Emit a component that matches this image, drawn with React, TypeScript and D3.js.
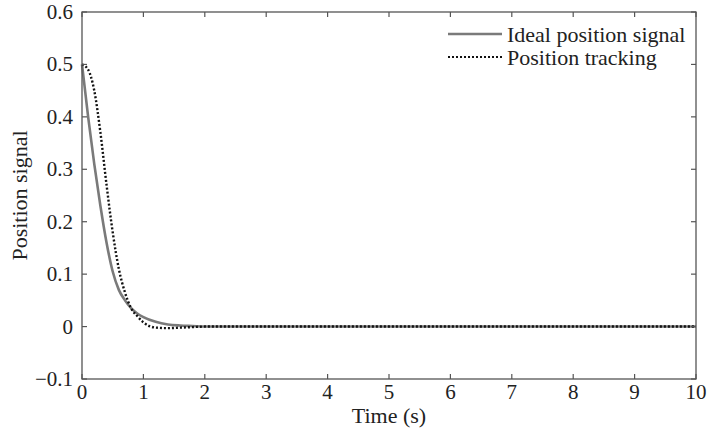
import React from "react";
import * as d3 from "d3";

// sampled time points (s)
const times = [0, 0.1, 0.2, 0.3, 0.4, 0.5, 0.6, 0.7, 0.8, 0.9, 1.0, 1.2, 1.4, 1.6, 1.8, 2.0, 3, 4, 5, 6, 7, 8, 9, 10];
// ideal position signal
const ideal = [0.5, 0.4, 0.31, 0.23, 0.16, 0.105, 0.07, 0.05, 0.035, 0.025, 0.018, 0.009, 0.004, 0.002, 0.001, 0, 0, 0, 0, 0, 0, 0, 0, 0];
// position tracking
const tracking = [0.5, 0.49, 0.45, 0.37, 0.27, 0.18, 0.11, 0.065, 0.035, 0.02, 0.008, -0.002, -0.003, -0.002, -0.001, 0, 0, 0, 0, 0, 0, 0, 0, 0];
const xTicks = [0, 1, 2, 3, 4, 5, 6, 7, 8, 9, 10];
const yTicks = [-0.1, 0, 0.1, 0.2, 0.3, 0.4, 0.5, 0.6];
const legendLabels = ["Ideal position signal", "Position tracking"];

const W = 709, H = 430;
const m = { left: 82, right: 13, top: 12, bottom: 51 };
const font = "'Liberation Serif', 'Times New Roman', serif";

export default function App() {
  const x = d3.scaleLinear().domain([0, 10]).range([m.left, W - m.right]);
  const y = d3.scaleLinear().domain([-0.1, 0.6]).range([H - m.bottom, m.top]);
  const line = (vals: number[]) =>
    d3.line<number>()
      .x((_, i) => x(times[i]))
      .y((v) => y(v))
      .curve(d3.curveMonotoneX)(vals) || "";

  const x0 = m.left, x1 = W - m.right, y0 = m.top, y1 = H - m.bottom;
  const tl = 5;
  const frame = "#555";

  return (
    <svg width={W} height={H} style={{ position: "absolute", left: 0, top: 0, background: "#fff" }} fontFamily={font}>
      <rect x={0} y={0} width={W} height={H} fill="#fff" />
      <path d={line(ideal)} fill="none" stroke="#7a7a7a" strokeWidth={2.6} />
      <path d={line(tracking)} fill="none" stroke="#111" strokeWidth={2.4} strokeDasharray="2,2" />
      <rect x={x0} y={y0} width={x1 - x0} height={y1 - y0} fill="none" stroke={frame} strokeWidth={1.3} />
      {xTicks.map((t) => (
        <g key={"x" + t}>
          <line x1={x(t)} x2={x(t)} y1={y1} y2={y1 - tl} stroke={frame} strokeWidth={1.2} />
          <line x1={x(t)} x2={x(t)} y1={y0} y2={y0 + tl} stroke={frame} strokeWidth={1.2} />
          <text x={x(t)} y={y1 + 20} textAnchor="middle" fontSize={21} fill="#222">{t}</text>
        </g>
      ))}
      {yTicks.map((t) => (
        <g key={"y" + t}>
          <line x1={x0} x2={x0 + tl} y1={y(t)} y2={y(t)} stroke={frame} strokeWidth={1.2} />
          <line x1={x1} x2={x1 - tl} y1={y(t)} y2={y(t)} stroke={frame} strokeWidth={1.2} />
          <text x={x0 - 9} y={y(t) + 7} textAnchor="end" fontSize={21} fill="#222">
            {t < 0 ? "\u2212" + Math.abs(t) : t}
          </text>
        </g>
      ))}
      <text x={(x0 + x1) / 2} y={H - 7} textAnchor="middle" fontSize={22} fill="#222">Time (s)</text>
      <text transform={`translate(27,${(y0 + y1) / 2}) rotate(-90)`} textAnchor="middle" fontSize={22} fill="#222">Position signal</text>
      {legendLabels.map((lab, i) => (
        <g key={lab}>
          <line x1={448} x2={502} y1={34 + i * 23} y2={34 + i * 23}
            stroke={i === 0 ? "#7a7a7a" : "#111"} strokeWidth={i === 0 ? 2.6 : 2.2}
            strokeDasharray={i === 0 ? undefined : "2,2"} />
          <text x={507} y={42 + i * 23} fontSize={22} fill="#222">{lab}</text>
        </g>
      ))}
    </svg>
  );
}
